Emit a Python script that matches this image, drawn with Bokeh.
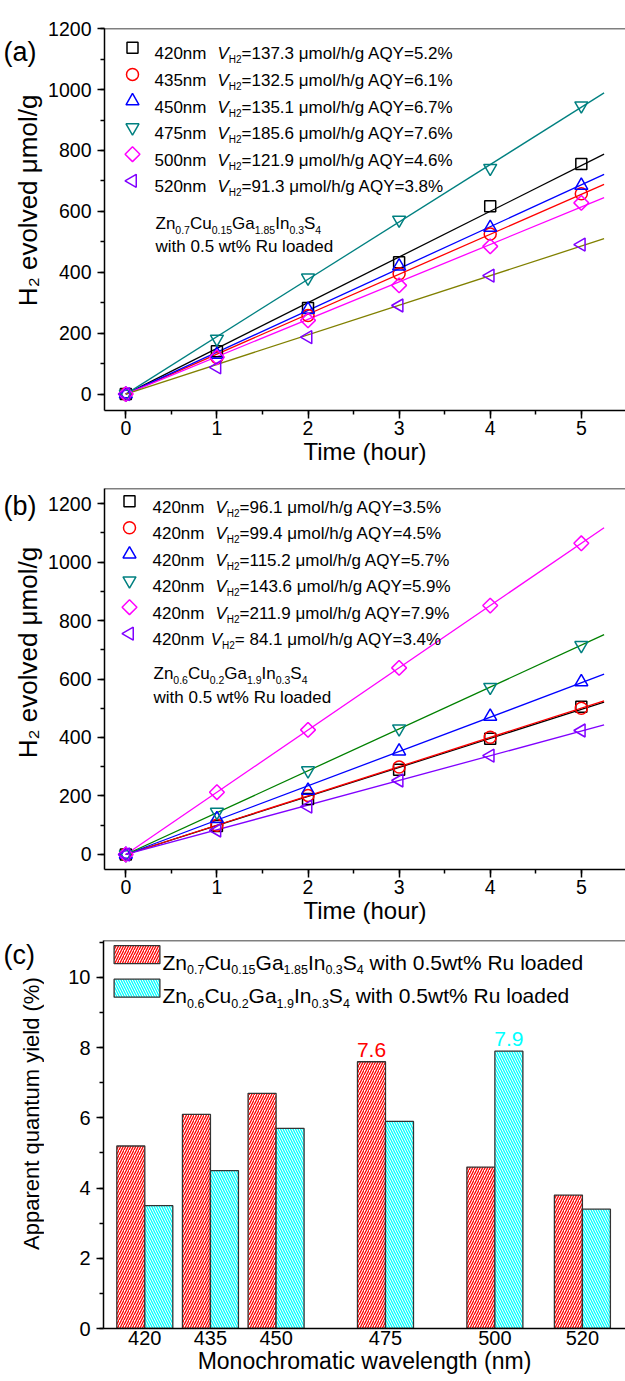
import numpy as np
from bokeh.plotting import figure
from bokeh.models import Range1d, SingleIntervalTicker, FixedTicker, Label, Span
from bokeh.layouts import column, row
from bokeh.embed import file_html
from bokeh.resources import INLINE
from bokeh.core.properties import value

FONT = "Liberation Sans"

# ---------------- data ----------------
hours = [0, 1, 2, 3, 4, 5]

# panel (a)  Zn0.7Cu0.15Ga1.85In0.3S4
wl_a = ["420nm", "435nm", "450nm", "475nm", "500nm", "520nm"]
rate_a = ["=137.3", "=132.5", "=135.1", "=185.6", "=121.9", "=91.3"]
aqy_a = [5.2, 6.1, 6.7, 7.6, 4.6, 3.8]
h2_a = [
    [0, 141, 283, 433, 617, 756],   # 420
    [0, 120, 258, 395, 526, 658],   # 435
    [0, 130, 278, 420, 547, 685],   # 450
    [0, 181, 382, 572, 742, 947],   # 475
    [0, 121, 242, 357, 485, 628],   # 500
    [0, 88, 187, 291, 389, 491],    # 520
]
formula_a = [("Zn", "0.7"), ("Cu", "0.15"), ("Ga", "1.85"), ("In", "0.3"), ("S", "4")]

# panel (b)  Zn0.6Cu0.2Ga1.9In0.3S4
wl_b = ["420nm", "420nm", "420nm", "420nm", "420nm", "420nm"]
rate_b = ["=96.1", "=99.4", "=115.2", "=143.6", "=211.9", "= 84.1"]
aqy_b = [3.5, 4.5, 5.7, 5.9, 7.9, 3.4]
h2_b = [
    [0, 97, 190, 290, 396, 505],
    [0, 100, 202, 299, 401, 500],
    [0, 122, 219, 353, 472, 590],
    [0, 145, 287, 430, 572, 715],
    [0, 213, 426, 638, 851, 1064],
    [0, 82, 164, 253, 338, 424],
]
formula_b = [("Zn", "0.6"), ("Cu", "0.2"), ("Ga", "1.9"), ("In", "0.3"), ("S", "4")]

# panel (c)
wl_c = [420, 435, 450, 475, 500, 520]
aqy_c_red = aqy_a
aqy_c_cyan = aqy_b

y_title_ab = "H\u2082 evolved \u03bcmol/g"
y_title_c = "Apparent quantum yield (%)"
fit_t_end = 5.25

# ---------------- styles ----------------
marker_colors = ["black", "red", "blue", "#008080", "#FF00FF", "#8000FF"]
line_colors_a = ["black", "red", "blue", "#008080", "#FF00FF", "#808000"]
line_colors_b = ["black", "red", "blue", "#008000", "#FF00FF", "#8000FF"]
marker_styles = [
    dict(marker="square", angle=0.0, size=11),
    dict(marker="circle", angle=0.0, size=12),
    dict(marker="triangle", angle=0.0, size=13),
    dict(marker="inverted_triangle", angle=0.0, size=13),
    dict(marker="square", angle=np.pi / 4, size=10.5),
    dict(marker="triangle", angle=np.pi / 2, size=13),
]

WID = {' ': 278, '%': 889, '(': 333, ')': 333, '.': 278, '/': 278, '=': 584, 'μ': 577,
       'A': 667, 'C': 722, 'G': 778, 'H': 722, 'I': 278, 'Q': 778, 'R': 722, 'S': 667,
       'V': 667, 'Y': 667, 'Z': 611, 'a': 556, 'c': 500, 'd': 556, 'e': 556, 'g': 556,
       'h': 556, 'i': 222, 'l': 222, 'm': 833, 'n': 556, 'o': 556, 'r': 333, 't': 278,
       'u': 556, 'v': 500, 'w': 722, 'y': 500}

GUT = 44  # width of the left gutter that carries panel tag and y title


def tw(s, size):
    return sum(WID.get(ch, 556) for ch in s) / 1000.0 * size


class Geo:
    def __init__(self, page_top, height, left, top, bottom, xr, yr):
        self.page_top, self.height = page_top, height
        self.L, self.T, self.B = left, top, bottom
        self.W = 625 - left
        self.H = height - top - bottom
        self.xr, self.yr = xr, yr

    def x(self, px):
        return self.xr[0] + (px - self.L) / self.W * (self.xr[1] - self.xr[0])

    def y(self, py):
        return self.yr[1] - (py - self.page_top - self.T) / self.H * (self.yr[1] - self.yr[0])

    def dy(self, pix):
        return pix / self.H * (self.yr[1] - self.yr[0])


def make_fig(g):
    p = figure(width=625 - GUT, height=g.height, x_range=Range1d(*g.xr), y_range=Range1d(*g.yr),
               output_backend="svg", toolbar_location=None,
               min_border_left=g.L - GUT, min_border_right=0, min_border_top=g.T,
               min_border_bottom=g.B)
    p.outline_line_color = None
    p.grid.visible = False
    p.background_fill_color = "white"
    p.border_fill_color = "white"
    for ax in (p.xaxis[0], p.yaxis[0]):
        ax.axis_line_color = "black"
        ax.axis_line_width = 1.5
        ax.major_tick_line_color = "black"
        ax.major_tick_line_width = 1.5
        ax.minor_tick_line_color = "black"
        ax.minor_tick_line_width = 1.5
        ax.major_tick_in = 0
        ax.minor_tick_in = 0
        ax.major_label_text_font = FONT
        ax.major_label_text_color = "black"
        ax.axis_label_text_font = FONT
        ax.axis_label_text_font_style = "normal"
        ax.axis_label_text_color = "black"
    p.add_layout(Span(location=g.yr[1], dimension="width", line_color="black", line_width=1.5))
    return p


def gutter(g, tag, tag_base, title, title_x, title_cy, title_size):
    q = figure(width=GUT, height=g.height, x_range=Range1d(0, GUT),
               y_range=Range1d(g.page_top + g.height, g.page_top),
               output_backend="svg", toolbar_location=None,
               x_axis_location=None, y_axis_location=None,
               min_border_left=0, min_border_right=0, min_border_top=0, min_border_bottom=0)
    q.outline_line_color = None
    q.grid.visible = False
    q.text(x=[3], y=[tag_base], text=[tag], text_font=value(FONT), text_font_size="27px",
           text_align="left", text_baseline="alphabetic", text_color="black")
    q.text(x=[title_x], y=[title_cy], text=[title], angle=np.pi / 2, text_font=value(FONT),
           text_font_size=f"{title_size}px", text_align="center", text_baseline="middle",
           text_color="black")
    return q


def lab(p, g, px, py, text, size, style="normal", color="black", align="left"):
    p.add_layout(Label(x=g.x(px), y=g.y(py), text=text, text_font=FONT,
                       text_font_size=f"{size}px", text_font_style=style,
                       text_color=color, text_align=align, text_baseline="alphabetic"))


def rich(p, g, x0, base, segs, size, sub_size, drop, color="black"):
    x = x0
    for txt, kind in segs:
        fs = sub_size if kind == "sub" else size
        yy = base + (drop if kind == "sub" else 0)
        lead = len(txt) - len(txt.lstrip(" "))
        x += tw(" " * lead, fs)
        t = txt.strip(" ")
        lab(p, g, x, yy, t, fs, "italic" if kind == "it" else "normal", color)
        x += tw(t, fs)
    return x


def formula_segs(formula):
    segs = []
    for el, sub in formula:
        segs.append((el, "n"))
        segs.append((sub, "sub"))
    return segs


def kinetics_panel(g, data, line_colors, wls, rates, aqys, seps, formula,
                   leg_mx, leg_tx, base0, step, ann_base1, ann_base2):
    p = make_fig(g)
    p.xaxis[0].ticker = SingleIntervalTicker(interval=1, num_minor_ticks=2)
    p.yaxis[0].ticker = SingleIntervalTicker(interval=200, num_minor_ticks=2)
    p.xaxis[0].major_tick_out = 8
    p.xaxis[0].minor_tick_out = 4
    p.yaxis[0].major_tick_out = 7
    p.yaxis[0].minor_tick_out = 4
    p.xaxis[0].major_label_text_font_size = "19.5px"
    p.yaxis[0].major_label_text_font_size = "19.5px"
    p.xaxis[0].major_label_standoff = 2
    p.yaxis[0].major_label_standoff = 6
    p.xaxis[0].axis_label = "Time (hour)"
    p.xaxis[0].axis_label_standoff = 0
    p.xaxis[0].axis_label_text_font_size = "24px"

    t = np.array(hours, dtype=float)
    for i, ys in enumerate(data):
        ys = np.array(ys, dtype=float)
        slope = float(np.sum(t * ys) / np.sum(t * t))
        p.line([0, fit_t_end], [0, slope * fit_t_end], line_color=line_colors[i], line_width=1.3)
    for i, ys in enumerate(data):
        st = marker_styles[i]
        p.scatter(hours, ys, marker=st["marker"], angle=st["angle"], size=st["size"],
                  line_color=marker_colors[i], fill_color=None, line_width=1.5)

    # legend
    for i in range(len(wls)):
        base = base0 + step * i
        st = marker_styles[i]
        p.scatter([g.x(leg_mx)], [g.y(base - 6)], marker=st["marker"], angle=st["angle"],
                  size=st["size"], line_color=marker_colors[i], fill_color=None, line_width=1.5)
        lab(p, g, leg_tx, base, wls[i], 17)
        xv = leg_tx + tw(wls[i] + seps[i], 17) + 1.5
        rich(p, g, xv, base,
             [("V", "it"), ("H2", "sub"),
              (rates[i] + " \u03bcmol/h/g AQY=" + f"{aqys[i]}%", "n")],
             17, 10, 6)
    rich(p, g, leg_tx + 1, ann_base1, formula_segs(formula), 17, 10.5, 6)
    lab(p, g, leg_tx + 1, ann_base2, "with 0.5 wt% Ru loaded", 17)
    return p


gA = Geo(0, 480, 104, 28, 70, (-0.234, 5.485), (-53.9, 1200.6))
gB = Geo(480, 455, 104, 8, 66, (-0.234, 5.485), (-51.3, 1251.3))
gC = Geo(935, 446, 103, 5, 53, (410.56, 529.85), (0.0, 11.054))

pA = kinetics_panel(gA, h2_a, line_colors_a, wl_a, rate_a, aqy_a, ["  "] * 6, formula_a,
                    132, 154, 53.3, 26.6, 223, 246)
pB = kinetics_panel(gB, h2_b, line_colors_b, wl_b, rate_b, aqy_b, ["  "] * 5 + [" "], formula_b,
                    129, 152, 506.7, 26.5, 673, 697)
qA = gutter(gA, "(a)", 30, y_title_ab, 27, 216, 26)
qB = gutter(gB, "(b)", 501, y_title_ab, 27, 676, 26)

# ---------------- panel (c) ----------------
pC = make_fig(gC)
pC.xaxis[0].ticker = FixedTicker(ticks=wl_c)
pC.xaxis[0].major_tick_line_color = None
pC.xaxis[0].minor_tick_line_color = None
pC.xaxis[0].major_tick_out = 0
pC.xaxis[0].major_label_standoff = 2
pC.xaxis[0].major_label_text_font_size = "20px"
pC.xaxis[0].axis_label = "Monochromatic wavelength (nm)"
pC.xaxis[0].axis_label_standoff = 0
pC.xaxis[0].axis_label_text_font_size = "23px"
pC.yaxis[0].ticker = SingleIntervalTicker(interval=2, num_minor_ticks=2)
pC.yaxis[0].major_tick_out = 7
pC.yaxis[0].minor_tick_out = 4
pC.yaxis[0].major_label_standoff = 6
pC.yaxis[0].major_label_text_font_size = "20px"
qC = gutter(gC, "(c)", 952, y_title_c, 31, 1134, 22)

bar_w = 6.4
wl_arr = np.array(wl_c, dtype=float)
red_style = dict(fill_color="white", hatch_pattern="/", hatch_color="red", hatch_scale=5,
                 hatch_weight=1.3, line_color="#333333", line_width=1.3)
cyan_style = dict(fill_color="white", hatch_pattern="\\", hatch_color="cyan", hatch_scale=5,
                  hatch_weight=1.3, line_color="#333333", line_width=1.3)
pC.vbar(x=wl_arr - bar_w / 2, top=aqy_c_red, width=bar_w, bottom=0, **red_style)
pC.vbar(x=wl_arr + bar_w / 2, top=aqy_c_cyan, width=bar_w, bottom=0, **cyan_style)

# value labels on the highest bar of each series
ir = int(np.argmax(aqy_c_red))
ic = int(np.argmax(aqy_c_cyan))
pC.add_layout(Label(x=wl_c[ir] - bar_w / 2, y=aqy_c_red[ir] + gC.dy(12), text=f"{aqy_c_red[ir]}",
                    text_font=FONT, text_font_size="21px", text_color="red",
                    text_align="center", text_baseline="alphabetic"))
pC.add_layout(Label(x=wl_c[ic] + bar_w / 2, y=aqy_c_cyan[ic] + gC.dy(12), text=f"{aqy_c_cyan[ic]}",
                    text_font=FONT, text_font_size="21px", text_color="cyan",
                    text_align="center", text_baseline="alphabetic"))

# legend (c)
for k, (style, form) in enumerate([(red_style, formula_a), (cyan_style, formula_b)]):
    base = 961.7 + 33.5 * k
    pC.quad(left=[gC.x(113.6)], right=[gC.x(159.4)], top=[gC.y(base - 16.5)],
            bottom=[gC.y(base + 1.5)], **style)
    rich(pC, gC, 162, base, formula_segs(form) + [(" with 0.5wt% Ru loaded", "n")], 21, 12.5, 7.5)

layout = column(row(qA, pA, spacing=0), row(qB, pB, spacing=0), row(qC, pC, spacing=0),
                spacing=0)
open("out.html", "w").write(file_html(layout, INLINE))
